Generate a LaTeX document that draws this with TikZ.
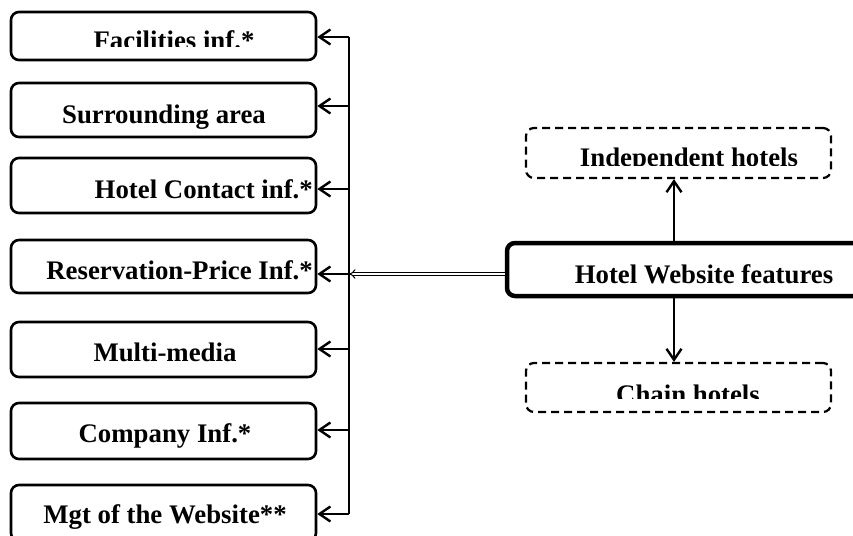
\documentclass[tikz,border=0pt]{standalone}
\usepackage{fontspec}
\setmainfont{Liberation Serif}
\usetikzlibrary{arrows.meta}
\begin{document}
\begin{tikzpicture}[x=1pt,y=-1pt,
  box/.style={draw, line width=2.6pt, rounded corners=8pt, minimum width=305pt, inner sep=0pt},
  dbox/.style={box, line width=2.2pt, dash pattern=on 8pt off 5pt},
  hbox/.style={draw, line width=4.5pt, rounded corners=8pt, inner sep=0pt},
  lbl/.style={font=\fontsize{26.8}{30}\selectfont\bfseries, inner sep=0pt},
  arr/.style={line width=2.4pt, -{Straight Barb[length=11pt,width=15pt,line width=2.4pt]}},
  bus/.style={line width=2.4pt}
]
\clip (0,0) rectangle (853,535);
% left boxes
\node[box, minimum height=48pt] (f1) at (163.5,36) {};
\node[box, minimum height=54pt] (f2) at (163.5,110) {};
\node[box, minimum height=55pt] (f3) at (163.5,185.5) {};
\node[box, minimum height=53pt] (f4) at (163.5,266.5) {};
\node[box, minimum height=55pt] (f5) at (163.5,349.5) {};
\node[box, minimum height=56pt] (f6) at (163.5,431) {};
\node[box, minimum height=56pt] (f7) at (163.5,513) {};
% right boxes
\node[dbox, minimum height=50pt] (ind) at (678.5,153) {};
\node[dbox, minimum height=49pt] (chn) at (678.5,387.5) {};
\node[hbox, minimum width=380pt, minimum height=53pt] (hwf) at (697,269.5) {};
% labels (some clipped as in the reference)
\begin{scope}
  \clip (0,0) rectangle (853,47);
  \node[lbl, anchor=base] (t1) at (174,50) {Facilities inf.*};
\end{scope}
\node[lbl, anchor=base] (t2) at (164,123) {Surrounding area};
\node[lbl, anchor=base east] (t3) at (313,198) {Hotel Contact inf.*};
\node[lbl, anchor=base east] (t4) at (313,279) {Reservation-Price Inf.*};
\node[lbl, anchor=base] (t5) at (165,361) {Multi-media};
\node[lbl, anchor=base] (t6) at (165,442) {Company Inf.*};
\node[lbl, anchor=base] (t7) at (165,523) {Mgt of the Website**};
\begin{scope}
  \clip (500,0) rectangle (853,165);
  \node[lbl, anchor=base] (ti) at (689,166) {Independent hotels};
\end{scope}
\begin{scope}
  \clip (500,300) rectangle (853,398);
  \node[lbl, anchor=base] (tc) at (688,403) {Chain hotels};
\end{scope}
\node[lbl, anchor=base] (th) at (704,283) {Hotel Website features};
% bus
\coordinate (b1) at (349,37);
\coordinate (b2) at (349,106);
\coordinate (b3) at (349,189);
\coordinate (b4) at (349,274);
\coordinate (b5) at (349,349);
\coordinate (b6) at (349,430);
\coordinate (b7) at (349,514);
\draw[bus] (b1) -- (b7);
\foreach \i in {1,...,7} {
  \draw[arr] (b\i) -- (f\i.east |- b\i);
}
% double connector
\draw[double, double distance=2.2pt, line width=1pt, -{Implies}] (hwf.west |- b4) -- (b4);
% vertical arrows
\coordinate (vx) at (674,0);
\draw[arr] (hwf.north -| vx) -- (ind.south -| vx);
\draw[arr] (hwf.south -| vx) -- (chn.north -| vx);
\end{tikzpicture}
\end{document}
